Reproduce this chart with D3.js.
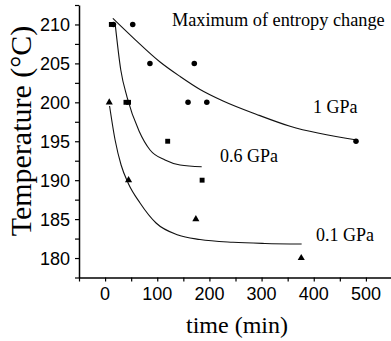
<!DOCTYPE html>
<html>
<head>
<meta charset="utf-8">
<script src="https://cdn.jsdelivr.net/npm/d3@7"></script>
<style>
  html, body { margin: 0; padding: 0; background: #fff; }
  svg { display: block; }
</style>
</head>
<body>
<svg id="chart" width="391" height="341"></svg>
<script>
// ---- data ----
const xTicks = [0, 100, 200, 300, 400, 500];
const yTicks = [180, 185, 190, 195, 200, 205, 210];

// measured points
const time1GPa = [16, 53, 86, 171, 159, 195, 481];
const temp1GPa = [210, 210, 205, 205, 200, 200, 195];
const time06GPa = [12, 40, 45, 120, 186];
const temp06GPa = [210, 200, 200, 195, 190];
const time01GPa = [8, 45, 174, 376];
const temp01GPa = [200, 190, 185, 180];

// fitted guide curves
const curve1Time = [14.8, 57.5, 105.4, 143.8, 182.1, 226.2, 290.8, 354.6, 482.5];
const curve1Temp = [210.79, 208.06, 205.18, 203.32, 201.65, 200.17, 198.44, 196.92, 195.16];
const curve06Time = [19.2, 30.1, 42.1, 65.1, 86.2, 114.9, 143.7, 185.2];
const curve06Temp = [210.15, 204.15, 200.68, 196.32, 193.88, 192.59, 191.95, 191.73];
const curve01Time = [8.6, 19.2, 30.7, 44.1, 67.0, 97.7, 139.8, 182, 245.2, 306.5, 376.8];
const curve01Temp = [199.53, 195.16, 191.95, 189.64, 187.07, 184.50, 182.96, 182.38, 182.02, 181.87, 181.80];

const seriesLabels = ["1 GPa", "0.6 GPa", "0.1 GPa"];
const titleText = "Maximum of entropy change";
const xTitle = "time (min)";
const yTitle = "Temperature (\u00B0C)";

// ---- drawing ----
const svg = d3.select("#chart");
const x = d3.scaleLinear().domain([-50, 550]).range([79, 392]);
const y = d3.scaleLinear().domain([177.5, 212.5]).range([277.5, 5]);

const serif = "'Liberation Serif', 'Times New Roman', serif";
const sans = "'Liberation Sans', Arial, sans-serif";

// curves
const line = d3.line().x(d => x(d[0])).y(d => y(d[1])).curve(d3.curveMonotoneX);
const curves = [
  d3.zip(curve1Time, curve1Temp),
  d3.zip(curve06Time, curve06Temp),
  d3.zip(curve01Time, curve01Temp)
];
svg.append("g").selectAll("path").data(curves).join("path")
  .attr("d", line)
  .attr("fill", "none")
  .attr("stroke", "#111")
  .attr("stroke-width", 1.1);

// markers
const markerSets = [
  { pts: d3.zip(time1GPa, temp1GPa), type: d3.symbolCircle, size: 24 },
  { pts: d3.zip(time06GPa, temp06GPa), type: d3.symbolSquare, size: 24 },
  { pts: d3.zip(time01GPa, temp01GPa), type: d3.symbolTriangle, size: 22 }
];
markerSets.forEach(ms => {
  svg.append("g").selectAll("path").data(ms.pts).join("path")
    .attr("transform", d => `translate(${x(d[0])},${y(d[1])})`)
    .attr("d", d3.symbol().type(ms.type).size(ms.size))
    .attr("fill", "#000");
});

// axes
const xMinor = d3.range(-50, 551, 50);
const yMinor = d3.range(177.5, 212.6, 2.5);

const xAxis = svg.append("g").attr("transform", `translate(0,${y(177.5)})`);
xAxis.call(d3.axisBottom(x).tickValues(xMinor).tickSize(4).tickSizeOuter(0).tickFormat(""));
xAxis.selectAll("path.domain").attr("stroke", "#000").attr("stroke-width", 1.5);
xAxis.selectAll(".tick line").attr("stroke", "#000").attr("stroke-width", 1.2);

const yAxis = svg.append("g").attr("transform", `translate(${x(-50)},0)`);
yAxis.call(d3.axisLeft(y).tickValues(yMinor).tickSize(4).tickSizeOuter(0).tickFormat(""));
yAxis.selectAll("path.domain").attr("stroke", "#000").attr("stroke-width", 1.5);
yAxis.selectAll(".tick line").attr("stroke", "#000").attr("stroke-width", 1.2);

// tick labels
svg.append("g").selectAll("text").data(xTicks).join("text")
  .attr("x", d => x(d)).attr("y", 300)
  .attr("text-anchor", "middle")
  .attr("font-family", sans).attr("font-size", 18)
  .text(d => d);
svg.append("g").selectAll("text").data(yTicks).join("text")
  .attr("x", 70).attr("y", d => y(d) + 6.5)
  .attr("text-anchor", "end")
  .attr("font-family", sans).attr("font-size", 18)
  .text(d => d);

// axis titles
svg.append("text")
  .attr("x", 237).attr("y", 333)
  .attr("text-anchor", "middle")
  .attr("font-family", serif).attr("font-size", 24)
  .text(xTitle);
svg.append("text")
  .attr("transform", `translate(31,131) rotate(-90)`)
  .attr("text-anchor", "middle")
  .attr("font-family", serif).attr("font-size", 30)
  .text(yTitle);

// annotations
svg.append("text")
  .attr("x", 172).attr("y", 26)
  .attr("font-family", serif).attr("font-size", 18.3)
  .text(titleText);
const labelPos = [[313, 112.7], [220, 161.7], [316, 241]];
svg.append("g").selectAll("text").data(seriesLabels).join("text")
  .attr("x", (d, i) => labelPos[i][0]).attr("y", (d, i) => labelPos[i][1])
  .attr("font-family", serif).attr("font-size", 18)
  .text(d => d);
</script>
</body>
</html>
